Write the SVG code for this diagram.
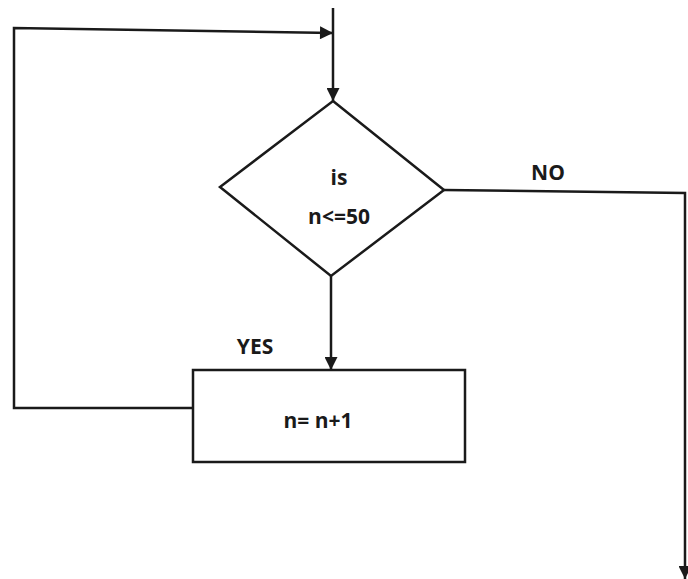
<svg xmlns="http://www.w3.org/2000/svg" width="688" height="579" viewBox="0 0 688 579">
<style>
.ln{fill:none;stroke:#1a1a1a;stroke-width:2.5}
.sh{fill:#fff;stroke:#1a1a1a;stroke-width:2.5}
.t{font-family:"Open Sans","Liberation Sans",sans-serif;font-weight:bold;font-size:21px;fill:#1a1a1a;text-anchor:middle}
</style>
<defs>
<marker id="ah" viewBox="0 0 10 10" refX="10" refY="5" markerWidth="16" markerHeight="13" markerUnits="userSpaceOnUse" orient="auto">
<path d="M0,0 L10,5 L0,10 Z" fill="#1a1a1a"/>
</marker>
</defs>
<rect width="688" height="579" fill="#fff"/>
<g id="connectors">
<path class="ln" d="M333,8 L333,101" marker-end="url(#ah)"/>
<path class="ln" d="M193,408 L14,408 L14,28 L333,33" marker-end="url(#ah)"/>
<path class="ln" d="M331,276 L331,370" marker-end="url(#ah)"/>
<path class="ln" d="M444,190 L685,193 L685,579" marker-end="url(#ah)"/>
</g>
<g id="decision">
<polygon class="sh" points="333,101 444,190 331,276 220,187"/>
<text class="t" x="339" y="185">is</text>
<text class="t" x="339" y="224">n&lt;=50</text>
</g>
<g id="process">
<rect class="sh" x="193" y="370" width="272" height="92"/>
<text class="t" x="318" y="428">n= n+1</text>
</g>
<g id="labels">
<text class="t" x="255" y="354">YES</text>
<text class="t" x="548" y="180">NO</text>
</g>
</svg>
